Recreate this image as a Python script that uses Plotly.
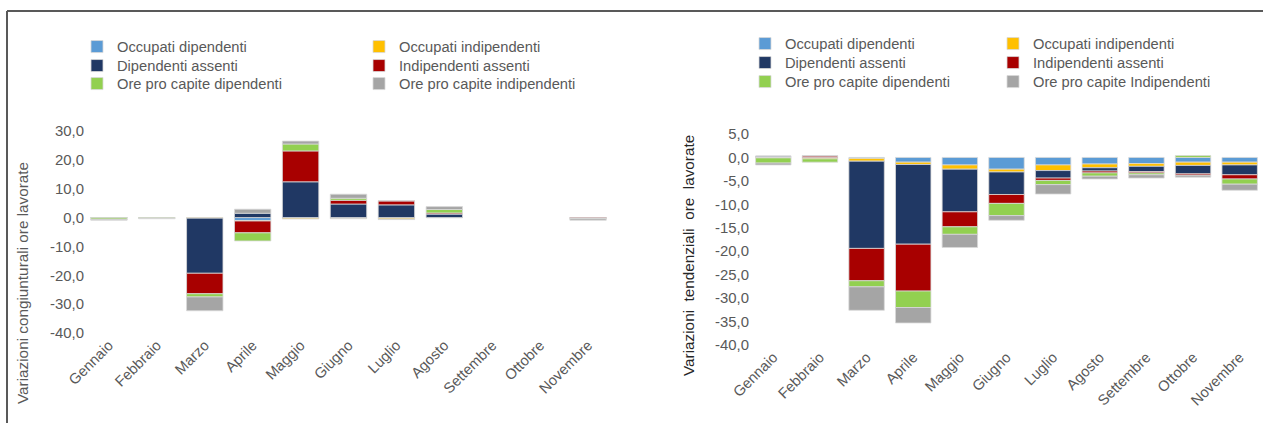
import plotly.graph_objects as go

W, H = 1263, 423

months = ["Gennaio", "Febbraio", "Marzo", "Aprile", "Maggio", "Giugno",
          "Luglio", "Agosto", "Settembre", "Ottobre", "Novembre"]

series_left = ["Occupati dipendenti", "Occupati indipendenti", "Dipendenti assenti",
               "Indipendenti assenti", "Ore pro capite dipendenti", "Ore pro capite indipendenti"]
series_right = ["Occupati dipendenti", "Occupati indipendenti", "Dipendenti assenti",
                "Indipendenti assenti", "Ore pro capite dipendenti", "Ore pro capite Indipendenti"]

# Variazioni congiunturali (left)
cong_occ_dip = [-0.1, 0.0, -0.1, -1.0, -0.2, -0.3, -0.1, 0.0, None, None, -0.1]
cong_occ_ind = [0.0, 0.0, -0.1, -0.2, -0.3, -0.1, -0.4, 0.0, None, None, 0.0]
cong_dip_ass = [0.0, 0.0, -19.1, 1.5, 12.4, 4.7, 4.4, 1.2, None, None, 0.0]
cong_ind_ass = [0.0, 0.0, -7.1, -4.1, 10.7, 1.3, 1.4, 0.4, None, None, -0.2]
cong_ore_dip = [-0.5, -0.3, -1.1, -2.8, 2.4, 0.7, 0.0, 1.2, None, None, -0.1]
cong_ore_ind = [-0.3, -0.1, -4.8, 1.4, 1.0, 1.4, -0.2, 1.0, None, None, -0.5]

# Variazioni tendenziali (right)
tend_occ_dip = [0.1, 0.0, -0.2, -1.0, -1.6, -2.5, -1.6, -1.4, -1.3, -1.0, -1.0]
tend_occ_ind = [-0.1, -0.3, -0.6, -0.5, -0.9, -0.6, -1.2, -0.8, -0.6, -0.7, -0.6]
tend_dip_ass = [0.2, 0.0, -18.6, -17.0, -9.1, -4.8, -1.6, -0.7, -1.1, -1.8, -2.1]
tend_ind_ass = [0.0, 0.3, -6.9, -10.0, -3.2, -1.9, -0.5, -0.4, -0.3, -0.3, -0.9]
tend_ore_dip = [-1.1, -0.7, -1.3, -3.5, -1.6, -2.6, -0.9, -0.7, -0.4, 0.4, -1.1]
tend_ore_ind = [-0.4, 0.1, -5.0, -3.3, -2.8, -1.0, -2.0, -0.6, -0.7, -0.4, -1.3]

colors = ["#5B9BD5", "#FFC000", "#203864", "#A80000", "#92D050", "#A5A5A5"]

left_ticks = [30, 20, 10, 0, -10, -20, -30, -40]
right_ticks = [5, 0, -5, -10, -15, -20, -25, -30, -35, -40]

FONT = "Liberation Sans, Arial, sans-serif"
GRAY = "#595959"

# layout geometry (pixels)
L_X = (85, 612)
L_Y = (131, 333)      # top (30) and bottom (-40)
R_X = (750, 1263)
R_Y = (134, 345)      # top (5) and bottom (-40)


def px_x(p):
    return p / W


def px_y(p):
    return 1 - p / H


fig = go.Figure()

left_vals = [cong_occ_dip, cong_occ_ind, cong_dip_ass, cong_ind_ass, cong_ore_dip, cong_ore_ind]
right_vals = [tend_occ_dip, tend_occ_ind, tend_dip_ass, tend_ind_ass, tend_ore_dip, tend_ore_ind]

# legend positions: text-start x, row center y
left_leg = [(117, 47), (399, 47), (117, 66), (399, 66), (117, 84), (399, 84)]
right_leg = [(785, 44), (1033, 44), (785, 63), (1033, 63), (785, 82), (1033, 82)]

legends = {}
n = 0
for chart, (vals, names, legpos, xa, ya) in enumerate([
        (left_vals, series_left, left_leg, "x", "y"),
        (right_vals, series_right, right_leg, "x2", "y2")]):
    for i in range(6):
        n += 1
        lname = "legend" if n == 1 else f"legend{n}"
        fig.add_trace(go.Bar(
            x=months, y=vals[i], name=names[i],
            marker=dict(color=colors[i], line=dict(color="#D9D9D9", width=0.8)),
            xaxis=xa, yaxis=ya, legend=lname,
        ))
        tx, ty = legpos[i]
        legends[lname] = dict(
            x=px_x(tx - 40), y=px_y(ty), xanchor="left", yanchor="middle",
            bgcolor="rgba(0,0,0,0)", borderwidth=0,
            font=dict(family=FONT, size=14.7, color=GRAY),
        )


def zero_frac(ypx, rng):
    top, bot = px_y(ypx[0]), px_y(ypx[1])
    return bot + (0 - rng[0]) / (rng[1] - rng[0]) * (top - bot)


L_RNG = [-40, 30]
R_RNG = [-40, 5]

common_x = dict(type="category", categoryorder="array", categoryarray=months,
                range=[-0.5, 10.5], showline=False, showgrid=False, zeroline=False,
                ticks="", tickangle=-45, automargin=False,
                tickfont=dict(family=FONT, size=14.7, color=GRAY))
common_y = dict(showline=False, showgrid=False, zeroline=False, ticks="", automargin=False,
                tickfont=dict(family=FONT, size=14.9, color=GRAY))
zero_ax = dict(type="linear", range=[-0.5, 10.5], tickmode="array",
               tickvals=[k - 0.5 for k in range(12)], ticks="outside", ticklen=5,
               tickcolor="#D9D9D9", tickwidth=1.5, showline=True, linecolor="#D9D9D9",
               linewidth=2, showticklabels=False, showgrid=False, zeroline=False,
               anchor="free", automargin=False)

fig.update_layout(
    width=W, height=H,
    margin=dict(l=0, r=0, t=0, b=0),
    paper_bgcolor="white", plot_bgcolor="rgba(0,0,0,0)",
    barmode="relative", bargap=0.24,
    font=dict(family=FONT, color=GRAY),
    xaxis=dict(domain=[px_x(L_X[0]), px_x(L_X[1])], anchor="y", **common_x),
    yaxis=dict(domain=[px_y(L_Y[1]), px_y(L_Y[0])], anchor="x", range=L_RNG,
               tickmode="array", tickvals=left_ticks,
               ticktext=[f"{v:.1f}".replace(".", ",") for v in left_ticks], **common_y),
    xaxis2=dict(domain=[px_x(R_X[0]), px_x(R_X[1])], anchor="y2", **common_x),
    yaxis2=dict(domain=[px_y(R_Y[1]), px_y(R_Y[0])], anchor="x2", range=R_RNG,
                tickmode="array", tickvals=right_ticks,
                ticktext=[f"{v:.1f}".replace(".", ",") for v in right_ticks], **common_y),
    xaxis3=dict(overlaying="x", position=zero_frac(L_Y, L_RNG), **zero_ax),
    xaxis4=dict(overlaying="x2", position=zero_frac(R_Y, R_RNG), **zero_ax),
    showlegend=True,
    **legends,
)

fig.add_annotation(text="Variazioni congiunturali ore lavorate", textangle=-90,
                   xref="paper", yref="paper", x=px_x(22), y=px_y(283),
                   xanchor="center", yanchor="middle", showarrow=False,
                   font=dict(family=FONT, size=15.3, color=GRAY))
fig.add_annotation(text="Variazioni  tendenziali  ore  lavorate", textangle=-90,
                   xref="paper", yref="paper", x=px_x(688), y=px_y(256),
                   xanchor="center", yanchor="middle", showarrow=False,
                   font=dict(family=FONT, size=15.3, color="#262626"))

# outer frame
fig.add_shape(type="line", xref="paper", yref="paper", x0=px_x(7), x1=1, y0=px_y(11), y1=px_y(11),
              line=dict(color="#595959", width=2))
fig.add_shape(type="line", xref="paper", yref="paper", x0=px_x(7), x1=px_x(7), y0=0, y1=px_y(11),
              line=dict(color="#595959", width=2))

fig.write_html("out.html", config={"displayModeBar": False},
               post_script="document.body.style.margin='0';document.body.style.overflow='hidden';")
